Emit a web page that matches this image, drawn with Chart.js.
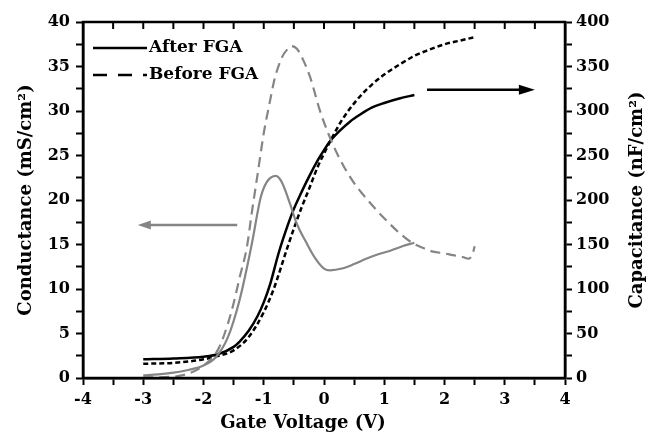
<!DOCTYPE html>
<html>
<head>
<meta charset="utf-8">
<script src="https://cdn.jsdelivr.net/npm/chart.js@4.4.1/dist/chart.umd.min.js"></script>
<style>
  body { margin: 0; background: #fff; }
  #wrap { width: 652px; height: 439px; }
</style>
</head>
<body>
<div id="wrap"><canvas id="myChart" width="652" height="439"></canvas></div>
<script>
// conductance (left axis, mS/cm2)
var voltCondAfter = [-3, -2.75, -2.5, -2.25, -2, -1.8, -1.6, -1.4, -1.2, -1.05, -0.95, -0.8, -0.7, -0.56, -0.45, -0.3, -0.15, 0, 0.1, 0.3, 0.5, 0.7, 0.9, 1.1, 1.3, 1.5];
var condAfter = [0.3, 0.4, 0.6, 0.9, 1.4, 2.3, 4.5, 8.8, 15, 20.3, 22.0, 22.7, 22.0, 19.5, 17.3, 15.3, 13.5, 12.3, 12.1, 12.3, 12.8, 13.4, 13.9, 14.3, 14.8, 15.2];

var voltCondBefore = [-3, -2.5, -2.25, -2, -1.75, -1.6, -1.5, -1.4, -1.28, -1.2, -1.1, -1.0, -0.9, -0.82, -0.7, -0.6, -0.54, -0.45, -0.35, -0.23, -0.07, 0.07, 0.27, 0.5, 0.65, 0.88, 1.05, 1.25, 1.46, 1.65, 1.81, 2.0, 2.14, 2.3, 2.4, 2.47, 2.5];
var condBefore = [0.05, 0.15, 0.5, 1.4, 3.3, 6, 8.4, 11.3, 14.7, 18.5, 23, 27.5, 31, 33.6, 36, 37, 37.3, 37, 35.8, 33.8, 30.1, 27.5, 24.5, 21.9, 20.6, 18.8, 17.6, 16.3, 15.2, 14.6, 14.2, 14.0, 13.8, 13.6, 13.4, 14.0, 14.8];

// capacitance (right axis, nF/cm2)
var voltCapAfter = [-3, -2.5, -2, -1.75, -1.5, -1.4, -1.25, -1.1, -1, -0.9, -0.75, -0.6, -0.5, -0.4, -0.25, -0.1, 0, 0.1, 0.25, 0.43, 0.6, 0.8, 1.0, 1.25, 1.5];
var capAfter = [21, 22, 24, 27, 35, 41, 53, 70, 85, 104, 141, 172, 190, 205, 226, 245, 256, 266, 277, 288, 296, 304, 309, 314, 318];

var voltCapBefore = [-3, -2.5, -2, -1.75, -1.5, -1.25, -1, -0.84, -0.62, -0.5, -0.37, -0.25, -0.1, 0, 0.15, 0.3, 0.54, 0.8, 1.0, 1.25, 1.5, 1.75, 2.0, 2.25, 2.5];
var capBefore = [16, 17, 21, 25, 31, 46, 74, 99, 144, 168, 192, 212, 238, 252, 272, 290, 312, 330, 341, 352, 362, 369, 375, 379, 383];

var legendLabels = ['After FGA', 'Before FGA'];

function pts(xs, ys) {
    return xs.map(function (x, i) { return { x: x, y: ys[i] }; });
}

var FONT = "'DejaVu Serif', serif";
var GRAY = '#858585';

// frame, top ticks, arrows, legend and axis titles
var extras = {
    id: 'extras',
    afterDraw: function (chart) {
        var ctx = chart.ctx;
        var a = chart.chartArea;
        var xs = chart.scales.x, ys = chart.scales.y;
        ctx.save();
        ctx.strokeStyle = '#000';
        ctx.lineWidth = 2.5;
        ctx.strokeRect(a.left, a.top, a.right - a.left, a.bottom - a.top);
        ctx.lineWidth = 2;
        for (var v = -4; v <= 4; v += 0.5) {
            var px = xs.getPixelForValue(v);
            ctx.beginPath();
            ctx.moveTo(px, a.top);
            ctx.lineTo(px, a.top + 7);
            ctx.stroke();
        }

        function arrow(x1, x2, yv, color, len, half) {
            var p1 = xs.getPixelForValue(x1), p2 = xs.getPixelForValue(x2);
            var py = ys.getPixelForValue(yv);
            var dir = p2 > p1 ? 1 : -1;
            ctx.strokeStyle = color;
            ctx.fillStyle = color;
            ctx.lineWidth = 2.5;
            ctx.beginPath();
            ctx.moveTo(p1, py);
            ctx.lineTo(p2 - dir * (len - 4), py);
            ctx.stroke();
            ctx.beginPath();
            ctx.moveTo(p2, py);
            ctx.lineTo(p2 - dir * len, py - half);
            ctx.lineTo(p2 - dir * len, py + half);
            ctx.closePath();
            ctx.fill();
        }
        arrow(-1.44, -3.09, 17.2, GRAY, 13, 4.5);
        arrow(1.71, 3.5, 32.4, '#000', 16, 5);

        // legend
        ctx.strokeStyle = '#000';
        ctx.lineWidth = 2.5;
        ctx.beginPath();
        ctx.moveTo(93, 48);
        ctx.lineTo(147, 48);
        ctx.stroke();
        ctx.setLineDash([14, 11]);
        ctx.beginPath();
        ctx.moveTo(93, 75);
        ctx.lineTo(147, 75);
        ctx.stroke();
        ctx.setLineDash([]);
        ctx.fillStyle = '#000';
        ctx.font = 'bold 17px ' + FONT;
        ctx.textBaseline = 'middle';
        ctx.textAlign = 'left';
        ctx.fillText(legendLabels[0], 149, 48);
        ctx.fillText(legendLabels[1], 149, 75);

        // x axis title
        ctx.textAlign = 'center';
        ctx.font = 'bold 18px ' + FONT;
        ctx.fillText('Gate Voltage (V)', 303, 423);

        // right axis title, reading bottom to top
        ctx.translate(637, (a.top + a.bottom) / 2);
        ctx.rotate(-Math.PI / 2);
        ctx.fillText('Capacitance (nF/cm²)', 0, 0);
        ctx.restore();
    }
};

var ctx = document.getElementById('myChart').getContext('2d');

var myChart = new Chart(ctx, {
    type: 'line',
    data: {
        datasets: [
            { label: 'Cond before', data: pts(voltCondBefore, condBefore), yAxisID: 'y', borderColor: GRAY, borderWidth: 2.2, borderDash: [10, 6] },
            { label: 'Cond after', data: pts(voltCondAfter, condAfter), yAxisID: 'y', borderColor: GRAY, borderWidth: 2.2 },
            { label: 'Cap before', data: pts(voltCapBefore, capBefore), yAxisID: 'y2', borderColor: '#000', borderWidth: 2.5, borderDash: [5, 3] },
            { label: 'Cap after', data: pts(voltCapAfter, capAfter), yAxisID: 'y2', borderColor: '#000', borderWidth: 2.5 }
        ]
    },
    options: {
        responsive: false,
        animation: false,
        layout: { padding: { top: 22, left: 0, right: 0, bottom: 0 } },
        elements: {
            point: { radius: 0 },
            line: { cubicInterpolationMode: 'monotone', fill: false }
        },
        plugins: {
            legend: { display: false },
            tooltip: { enabled: false }
        },
        scales: {
            x: {
                type: 'linear',
                min: -4,
                max: 4,
                afterFit: function (s) { s.height = 61; },
                border: { color: '#000', width: 2.5 },
                grid: { drawOnChartArea: false, color: '#000', tickLength: 7, tickWidth: 2 },
                ticks: {
                    stepSize: 0.5,
                    padding: 5,
                    color: '#000',
                    font: { family: FONT, size: 16, weight: 'bold' },
                    maxRotation: 0,
                    autoSkip: false,
                    callback: function (v) { return Number.isInteger(v) ? String(v) : ''; }
                }
            },
            y: {
                position: 'left',
                min: 0,
                max: 40,
                afterFit: function (s) { s.width = 83; },
                border: { color: '#000', width: 2.5 },
                grid: { drawOnChartArea: false, color: '#000', tickLength: 7, tickWidth: 2 },
                ticks: {
                    stepSize: 2.5,
                    padding: 6,
                    color: '#000',
                    font: { family: FONT, size: 16, weight: 'bold' },
                    autoSkip: false,
                    callback: function (v) { return v % 5 === 0 ? String(v) : ''; }
                },
                title: {
                    display: true,
                    text: 'Conductance (mS/cm²)',
                    color: '#000',
                    font: { family: FONT, size: 18, weight: 'bold' },
                    padding: { top: 16, bottom: 0 }
                }
            },
            y2: {
                position: 'right',
                min: 0,
                max: 400,
                afterFit: function (s) { s.width = 87; },
                border: { color: '#000', width: 2.5 },
                grid: { drawOnChartArea: false, color: '#000', tickLength: 7, tickWidth: 2 },
                ticks: {
                    stepSize: 25,
                    padding: 4,
                    color: '#000',
                    font: { family: FONT, size: 16, weight: 'bold' },
                    autoSkip: false,
                    callback: function (v) { return v % 50 === 0 ? String(v) : ''; }
                }
            }
        }
    },
    plugins: [extras]
});
</script>
</body>
</html>
